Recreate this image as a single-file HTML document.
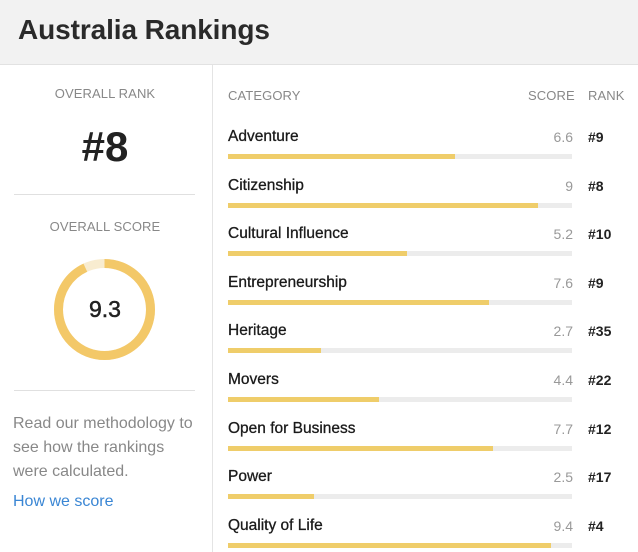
<!DOCTYPE html>
<html><head><style>
*{margin:0;padding:0;box-sizing:border-box}
body{width:638px;height:552px;background:#fff;font-family:"Liberation Sans",Arial,sans-serif;position:relative;overflow:hidden;color:#222}
.hdr{position:absolute;left:0;top:0;width:638px;height:65px;background:#f2f2f2;border-bottom:1px solid #e2e2e2}
.hdr h1{position:absolute;left:18px;top:14px;font-size:28px;font-weight:bold;color:#2a2a2a;letter-spacing:-0.1px}
.vd{position:absolute;left:212px;top:65px;width:1px;height:487px;background:#e4e4e4}
.t{position:absolute;white-space:nowrap}
.cap{font-size:13px;color:#888;letter-spacing:0.1px}
.hr{position:absolute;left:14px;width:181px;height:1px;background:#e0e0e0}
.name{font-size:15.5px;color:#1a1a1a;-webkit-text-stroke:0.3px #1a1a1a}
.sc{font-size:14px;color:#999;text-align:right;width:60px}
.rk{font-size:14px;color:#222;font-weight:bold}
.track{position:absolute;left:228px;width:344px;height:5px;background:#ececec}
.fill{height:5px;background:#efcd6a}
</style></head><body>
<div class="hdr"><h1>Australia Rankings</h1></div>
<div class="vd"></div>
<div class="t cap" style="left:0;width:210px;text-align:center;top:86px">OVERALL RANK</div>
<div class="t" style="left:0;width:210px;text-align:center;top:123px;font-size:42px;font-weight:bold;color:#222">#8</div>
<div class="hr" style="top:194px"></div>
<div class="t cap" style="left:0;width:210px;text-align:center;top:219px">OVERALL SCORE</div>
<svg style="position:absolute;left:0;top:0" width="212" height="552">
<circle cx="104.5" cy="309.5" r="46" fill="none" stroke="#f8ecd0" stroke-width="9"/>
<circle cx="104.5" cy="309.5" r="46" fill="none" stroke="#f3c868" stroke-width="9" stroke-dasharray="268.8 400" transform="rotate(-90 104.5 309.5)"/>
</svg>
<div class="t" style="left:0;width:210px;text-align:center;top:296px;font-size:23px;color:#222;-webkit-text-stroke:0.5px #222">9.3</div>
<div class="hr" style="top:390px"></div>
<div class="t" style="left:13px;top:412px;font-size:16px;color:#888;line-height:24px">Read our methodology to<br>see how the rankings<br>were calculated.</div>
<div class="t" style="left:13px;top:493px;font-size:16px;color:#3a86d4">How we score</div>
<div class="t cap" style="left:228px;top:88px">CATEGORY</div>
<div class="t cap" style="left:528px;top:88px">SCORE</div>
<div class="t cap" style="left:588px;top:88px">RANK</div>
<div id="rows"></div>
<script>
var d=[["Adventure",6.6,"#9"],["Citizenship",9,"#8"],["Cultural Influence",5.2,"#10"],["Entrepreneurship",7.6,"#9"],["Heritage",2.7,"#35"],["Movers",4.4,"#22"],["Open for Business",7.7,"#12"],["Power",2.5,"#17"],["Quality of Life",9.4,"#4"]];
var h="";
d.forEach(function(r,i){var y=128+i*48.6;
h+='<div class="t name" style="left:228px;top:'+y+'px">'+r[0]+'</div>';
h+='<div class="t sc" style="left:513px;top:'+(y+1)+'px">'+r[1]+'</div>';
h+='<div class="t rk" style="left:588px;top:'+(y+1)+'px">'+r[2]+'</div>';
h+='<div class="track" style="top:'+(y+26)+'px"><div class="fill" style="width:'+(r[1]*34.4)+'px"></div></div>';});
document.getElementById("rows").innerHTML=h;
</script>
</body></html>
